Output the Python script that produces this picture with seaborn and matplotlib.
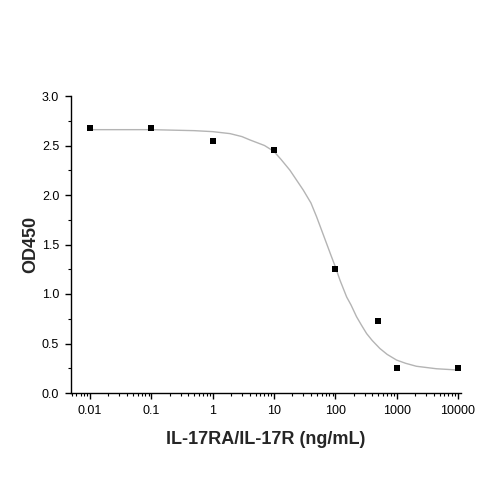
import numpy as np
import pandas as pd
import seaborn as sns
import matplotlib
matplotlib.use("Agg")
import matplotlib.pyplot as plt
from matplotlib.ticker import LogLocator, FixedLocator, MultipleLocator

# measured points
conc = [0.01, 0.1, 1, 10, 100, 500, 1000, 10000]
od450 = [2.68, 2.68, 2.55, 2.45, 1.25, 0.73, 0.25, 0.25]

# fitted curve
curve_x = [0.01, 0.1, 0.5, 1, 1.92, 3, 4.06, 7, 10, 13, 18.2, 30, 40, 49.5,
           72, 85, 100, 119, 153, 180, 222, 270, 324, 400, 532, 700, 995,
           1400, 2100, 4450, 10000]
curve_y = [2.66, 2.66, 2.65, 2.64, 2.62, 2.59, 2.556, 2.50, 2.44, 2.36, 2.25,
           2.05, 1.92, 1.78, 1.51, 1.39, 1.275, 1.14, 0.97, 0.89, 0.77, 0.68,
           0.60, 0.53, 0.45, 0.39, 0.333, 0.30, 0.27, 0.245, 0.232]

xticks = [0.01, 0.1, 1, 10, 100, 1000, 10000]
xticklabels = ["0.01", "0.1", "1", "10", "100", "1000", "10000"]

pts = pd.DataFrame({"conc": conc, "od": od450})
fit = pd.DataFrame({"conc": curve_x, "od": curve_y})

sns.set_style("ticks")
plt.rcParams['font.family'] = ['Liberation Sans', 'DejaVu Sans']

fig = plt.figure(figsize=(5, 5), dpi=100)
ax = fig.add_axes([0.142, 0.214, 0.78, 0.594])

sns.lineplot(data=fit, x="conc", y="od", color="#b4b4b4", linewidth=1.0, ax=ax)
sns.scatterplot(data=pts, x="conc", y="od", marker="s", color="black",
                s=24, edgecolor="black", linewidth=0, ax=ax, zorder=3)

ax.set_xscale("log")
ax.set_xlim(0.0049, 11200)
ax.set_ylim(0, 3.0)
ax.xaxis.set_major_locator(FixedLocator(xticks))
ax.set_xticklabels(xticklabels)
ax.xaxis.set_minor_locator(LogLocator(base=10, subs=np.arange(2, 10)))
ax.yaxis.set_major_locator(MultipleLocator(0.5))
ax.yaxis.set_minor_locator(MultipleLocator(0.25))
ax.set_yticks([0, 0.5, 1.0, 1.5, 2.0, 2.5, 3.0])
ax.set_yticklabels(["0.0", "0.5", "1.0", "1.5", "2.0", "2.5", "3.0"])

for s in ["top", "right"]:
    ax.spines[s].set_visible(False)
for s in ["left", "bottom"]:
    ax.spines[s].set_linewidth(1.0)
    ax.spines[s].set_color("black")

ax.tick_params(axis="both", which="major", direction="out", length=4.5,
               width=1.0, labelsize=9, colors="black", pad=4)
ax.tick_params(axis="both", which="minor", direction="out", length=2.5,
               width=0.8, colors="black")

ax.set_xlabel("IL-17RA/IL-17R (ng/mL)", fontsize=13, fontweight="bold", labelpad=10)
ax.set_ylabel("OD450", fontsize=13, fontweight="bold", labelpad=2)

fig.savefig("out.png", dpi=100, facecolor="white")
